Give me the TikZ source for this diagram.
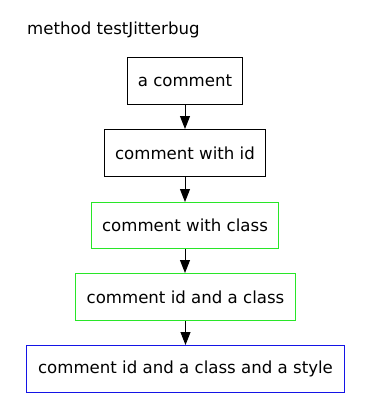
\documentclass[tikz,border=0pt]{standalone}
\usepackage{fontspec}
\setmainfont{DejaVu Sans}
\usetikzlibrary{arrows.meta}
\tikzset{
  labelfont/.style={font=\fontsize{16.6}{19}\selectfont},
  stmt/.style={draw, line width=1pt, inner sep=0pt, labelfont},
  flow/.style={-{Triangle[length=13pt,width=10pt]}, line width=1pt},
}
\definecolor{lime}{RGB}{40,230,40}
\definecolor{deepblue}{RGB}{20,20,230}
\begin{document}
\begin{tikzpicture}[x=1pt,y=-1pt]
  \useasboundingbox (0,0) rectangle (371,420);
  \node[anchor=base west, labelfont, inner sep=0pt] (title) at (27,35) {method testJitterbug};
  \node[stmt, minimum width=115pt, minimum height=47pt] (c1) at (185,81) {a comment};
  \node[stmt, minimum width=161pt, minimum height=47pt] (c2) at (185,153) {comment with id};
  \node[stmt, draw=lime, minimum width=187pt, minimum height=46pt] (c3) at (185,225.5) {comment with class};
  \node[stmt, draw=lime, minimum width=220pt, minimum height=47pt] (c4) at (185.5,297) {comment id and a class};
  \node[stmt, draw=deepblue, minimum width=318pt, minimum height=47pt] (c5) at (185.5,369) {comment id and a class and a style};
  \draw[flow] (c1) -- (c2);
  \draw[flow] (c2) -- (c3);
  \draw[flow] (c3) -- (c4.north -| c3);
  \draw[flow] (c4) -- (c5);
\end{tikzpicture}
\end{document}
